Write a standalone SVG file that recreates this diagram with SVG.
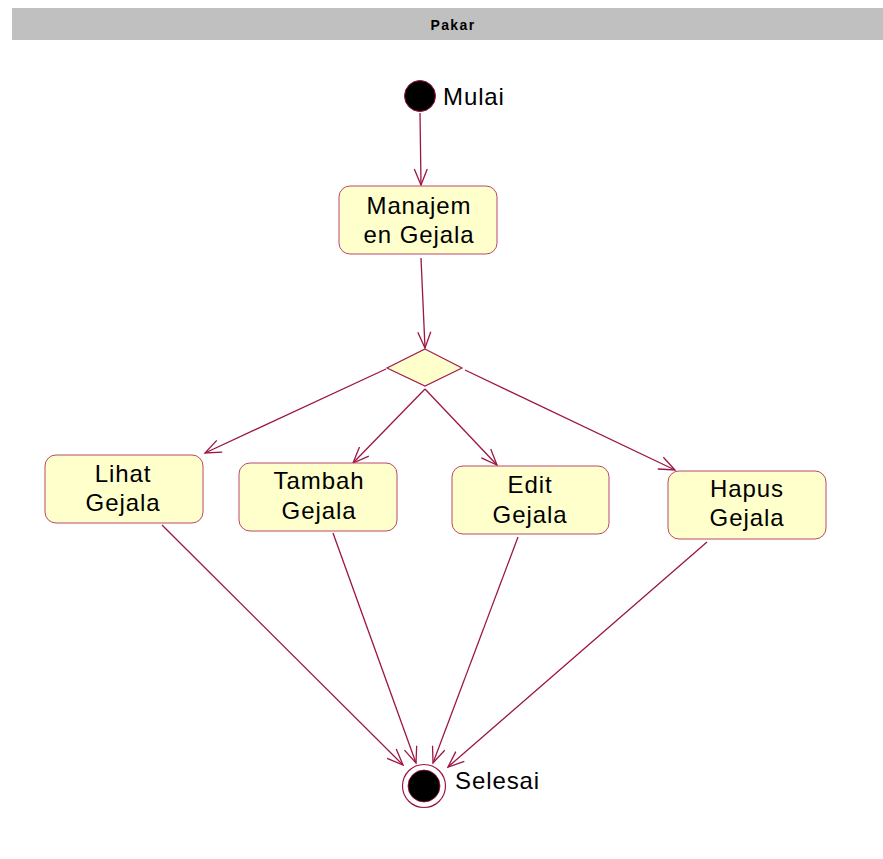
<svg xmlns="http://www.w3.org/2000/svg" width="883" height="859" viewBox="0 0 883 859">
  <style>
    .lane { fill: #c0c0c0; }
    .lane-title { font-family: "Liberation Sans", Arial, sans-serif; font-size: 14px; font-weight: bold; letter-spacing: 1.4px; fill: #000; }
    .act { fill: #ffffcc; stroke: #b84868; stroke-width: 1; }
    .dec { fill: #ffffcc; stroke: #a0204e; stroke-width: 1.2; }
    .lbl { font-family: "Liberation Sans", Arial, sans-serif; font-size: 24px; letter-spacing: 0.9px; fill: #000; }
    .flow { fill: none; stroke: #9b1644; stroke-width: 1.3; marker-end: url(#open); }
  </style>
  <defs>
    <marker id="open" markerUnits="userSpaceOnUse" markerWidth="20" markerHeight="16" viewBox="-17 -8 19 16" refX="0" refY="0" orient="auto">
      <path d="M-16,-6.5 L0,0 L-16,6.5" fill="none" stroke="#9b1644" stroke-width="1.3"/>
    </marker>
  </defs>

  <rect width="883" height="859" fill="#ffffff"/>

  <!-- swimlane header -->
  <g id="lane-pakar">
    <rect class="lane" x="12" y="8" width="871" height="32"/>
    <text class="lane-title" x="453" y="30" text-anchor="middle">Pakar</text>
  </g>

  <!-- transitions -->
  <g id="connectors">
    <path class="flow" d="M420,113 L421,185"/>
    <path class="flow" d="M421,258 L425,348"/>
    <path class="flow" d="M386,369 L205,453"/>
    <path class="flow" d="M425,389 L353,463"/>
    <path class="flow" d="M425,389 L497,465"/>
    <path class="flow" d="M465,370 L675,470"/>
    <path class="flow" d="M162,525 L403,765"/>
    <path class="flow" d="M333,533 L416,763"/>
    <path class="flow" d="M518,537 L433,763"/>
    <path class="flow" d="M707,542 L448,767"/>
  </g>

  <g id="start">
    <circle cx="420" cy="96" r="15.5" fill="#000" stroke="#9b1644" stroke-width="1"/>
    <text class="lbl" x="443" y="105">Mulai</text>
  </g>

  <g id="manajemen-gejala">
    <rect class="act" x="339" y="186" width="158" height="68" rx="11" ry="11"/>
    <text class="lbl" x="419" y="214" text-anchor="middle">Manajem</text>
    <text class="lbl" x="419" y="243" text-anchor="middle">en Gejala</text>
  </g>

  <g id="decision">
    <path class="dec" d="M425,349 L462,368 L425,386 L387,368 Z"/>
  </g>

  <g id="lihat-gejala">
    <rect class="act" x="45" y="455" width="158" height="68" rx="11" ry="11"/>
    <text class="lbl" x="123" y="482" text-anchor="middle">Lihat</text>
    <text class="lbl" x="123" y="511" text-anchor="middle">Gejala</text>
  </g>

  <g id="tambah-gejala">
    <rect class="act" x="239" y="463" width="158" height="68" rx="11" ry="11"/>
    <text class="lbl" x="319" y="489" text-anchor="middle">Tambah</text>
    <text class="lbl" x="319" y="519" text-anchor="middle">Gejala</text>
  </g>

  <g id="edit-gejala">
    <rect class="act" x="452" y="466" width="157" height="68" rx="11" ry="11"/>
    <text class="lbl" x="530" y="493" text-anchor="middle">Edit</text>
    <text class="lbl" x="530" y="523" text-anchor="middle">Gejala</text>
  </g>

  <g id="hapus-gejala">
    <rect class="act" x="668" y="471" width="158" height="68" rx="11" ry="11"/>
    <text class="lbl" x="747" y="497" text-anchor="middle">Hapus</text>
    <text class="lbl" x="747" y="526" text-anchor="middle">Gejala</text>
  </g>

  <g id="end">
    <circle cx="424" cy="786" r="21.5" fill="#fff" stroke="#9b1644" stroke-width="1.2"/>
    <circle cx="424" cy="786" r="16" fill="#000" stroke="#9b1644" stroke-width="0.8"/>
    <text class="lbl" x="455" y="789">Selesai</text>
  </g>
</svg>
